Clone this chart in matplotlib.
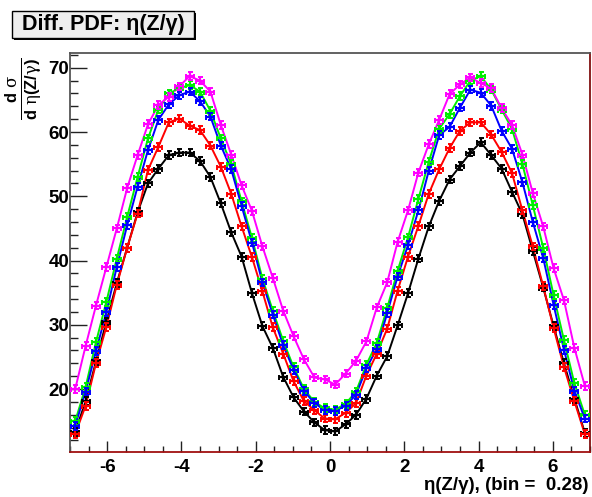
import numpy as np
import matplotlib
matplotlib.use("Agg")
import matplotlib.pyplot as plt
from matplotlib.ticker import MultipleLocator
from matplotlib.patches import Rectangle

plt.rcParams['font.family'] = ['Liberation Sans', 'DejaVu Sans']
plt.rcParams['mathtext.fontset'] = 'custom'
plt.rcParams['mathtext.rm'] = 'Liberation Sans'
plt.rcParams['mathtext.bf'] = 'Liberation Sans:bold'
plt.rcParams['mathtext.it'] = 'DejaVu Serif'
plt.rcParams['axes.unicode_minus'] = False

# bin structure: 50 bins of width 0.28 from -7 to 7
bin_edges = np.linspace(-7, 7, 51)
bin_centers = 0.5 * (bin_edges[:-1] + bin_edges[1:])

black_vals = [13.3, 18.1, 24.3, 30.5, 36.5, 42.0, 47.5, 52.0, 54.3, 56.4,
              56.8, 56.8, 55.5, 53.0, 48.9, 44.4, 40.6, 34.9, 29.8, 26.4,
              21.9, 18.7, 16.5, 14.8, 13.6, 13.4, 14.5, 16.0, 18.5, 22.1,
              25.1, 29.9, 34.9, 40.3, 45.3, 49.3, 52.6, 54.7, 56.8, 58.4,
              56.4, 54.3, 50.7, 47.2, 41.5, 35.8, 29.8, 24.0, 18.5, 13.2]
red_vals = [13.0, 17.4, 24.0, 29.7, 36.2, 42.0, 47.3, 54.1, 57.7, 61.5,
            62.1, 61.0, 60.3, 57.9, 54.6, 50.4, 45.3, 40.5, 35.2, 29.6,
            25.5, 21.2, 18.1, 16.7, 15.4, 15.3, 16.3, 17.8, 22.1, 25.5,
            29.4, 35.3, 40.6, 45.4, 50.4, 54.2, 57.5, 60.2, 61.5, 61.5,
            59.6, 56.9, 53.6, 47.8, 42.2, 36.0, 29.5, 23.4, 18.1, 13.0]
green_vals = [15.0, 20.3, 27.3, 33.6, 40.3, 46.8, 53.0, 59.0, 63.5, 66.0,
              66.8, 67.3, 66.3, 63.3, 59.0, 55.0, 49.2, 43.5, 37.2, 32.2,
              27.5, 23.4, 20.0, 18.0, 17.0, 16.8, 17.7, 19.6, 23.8, 27.2,
              32.6, 38.4, 43.6, 49.6, 55.4, 60.5, 62.8, 65.6, 68.0, 68.7,
              66.6, 63.5, 60.5, 55.0, 48.6, 42.0, 34.6, 27.6, 20.9, 16.0]
blue_vals = [14.3, 19.6, 25.9, 32.0, 39.0, 45.5, 51.5, 57.2, 61.9, 64.3,
             65.7, 66.3, 64.8, 62.4, 57.9, 54.2, 48.5, 42.8, 36.6, 31.6,
             26.8, 23.0, 19.7, 17.8, 16.7, 16.6, 17.4, 19.1, 23.2, 26.3,
             31.8, 37.5, 42.4, 47.8, 54.0, 59.5, 60.8, 63.8, 66.6, 66.1,
             64.1, 60.2, 57.4, 52.2, 46.0, 40.4, 33.1, 26.1, 19.7, 15.4]
magenta_vals = [20.0, 26.7, 33.0, 39.0, 45.0, 51.3, 56.4, 61.2, 64.2, 65.5,
                67.1, 68.7, 68.0, 66.3, 61.1, 56.5, 51.7, 47.7, 42.2, 37.3,
                32.2, 28.2, 24.6, 21.8, 21.5, 20.7, 22.4, 24.4, 27.4, 32.7,
                36.6, 42.9, 47.8, 53.7, 58.1, 61.9, 65.9, 67.4, 68.5, 67.6,
                66.8, 63.7, 61.1, 56.5, 50.5, 45.3, 38.8, 33.8, 26.4, 20.5]

series = [(black_vals, '#000000'), (red_vals, '#ff0000'), (green_vals, '#00ee00'),
          (blue_vals, '#0000ff'), (magenta_vals, '#ff00ff')]

xticks = [-6, -4, -2, 0, 2, 4, 6]
yticks = [20, 30, 40, 50, 60, 70]

fig = plt.figure(figsize=(5.92, 4.97), dpi=100)
ax = fig.add_axes([70/592, 45/497, 520/592, 399/497])

for vals, col in series:
    ax.plot(bin_centers, vals, color=col, lw=1.4, zorder=2)
    ax.errorbar(bin_centers, vals, xerr=0.11, yerr=0.6, fmt='none', ecolor=col,
                elinewidth=1.6, capsize=1.8, capthick=1.4, zorder=3)

ax.set_xlim(-7, 7)
ax.set_ylim(10.2, 72.3)
ax.set_xticks(xticks)
ax.set_yticks(yticks)
ax.xaxis.set_minor_locator(MultipleLocator(0.5))
ax.yaxis.set_minor_locator(MultipleLocator(2))
ax.tick_params(axis='both', which='both', direction='in', colors='#222222',
               labelcolor='black', width=1.0)
ax.tick_params(axis='y', which='major', length=12, labelsize=13.5, pad=0.5)
ax.tick_params(axis='y', which='minor', length=6)
ax.tick_params(axis='x', which='major', length=8, labelsize=13.5, pad=5)
ax.tick_params(axis='x', which='minor', length=4)
ax.tick_params(top=False, right=False, which='both')
for lab in ax.get_xticklabels() + ax.get_yticklabels():
    lab.set_fontweight('bold')

ax.spines['top'].set_color('#555555')
ax.spines['left'].set_color('#555555')
ax.spines['bottom'].set_color('#a01010')
ax.spines['right'].set_color('#801010')
for s in ax.spines.values():
    s.set_linewidth(1.3)

# title box
shadow = Rectangle((14/592, 1 - 40/497), 182/592, 27/497, transform=fig.transFigure,
                   facecolor='black', edgecolor='none', zorder=1)
box = Rectangle((12/592, 1 - 38/497), 182/592, 27/497, transform=fig.transFigure,
                facecolor='#eeeeee', edgecolor='black', lw=1.0, zorder=2)
fig.patches.extend([shadow, box])
fig.text(103/592, 1 - 24.5/497, 'Diff. PDF: η(Z/γ)', ha='center', va='center',
         fontsize=15.5, fontweight='bold', zorder=3)

# y label
fig.text(24/592, 1 - 89/497,
         r'$\frac{\mathbf{d}\ \sigma}{\mathbf{d}\ \eta\mathbf{(Z/}\gamma\mathbf{)}}$',
         rotation=90, ha='center', va='center', fontsize=17)

# x label
fig.text(588/592, 1 - 485/497, 'η(Z/γ), (bin =  0.28)', ha='right', va='center',
         fontsize=13.5, fontweight='bold')

fig.savefig('out.png', dpi=100)
